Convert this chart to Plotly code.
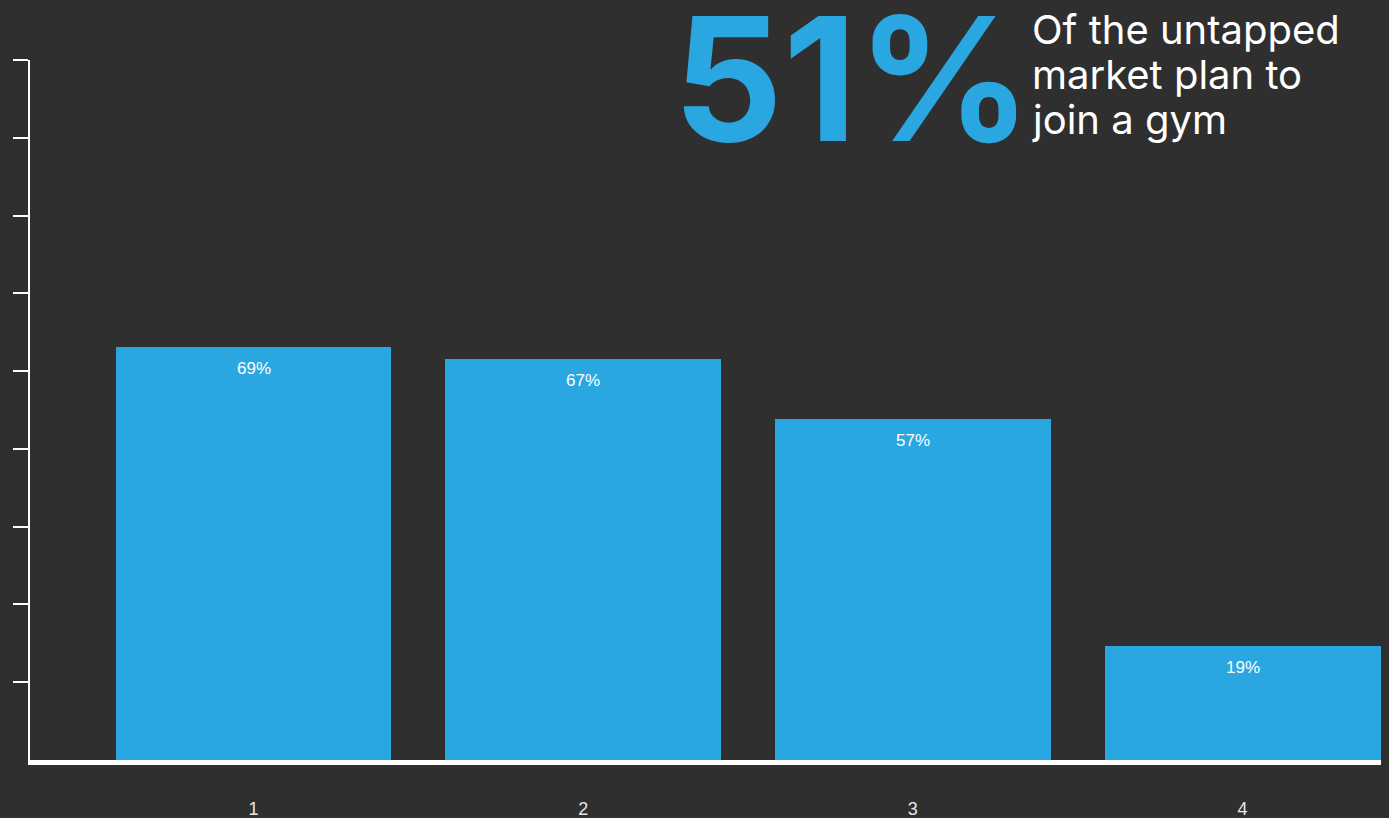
import plotly.graph_objects as go

# Survey results
categories = [1, 2, 3, 4]
values = [69, 67, 57, 19]
value_labels = ["69%", "67%", "57%", "19%"]
tick_labels = ["1", "2", "3", "4"]

headline_value = "51%"
headline_lines = ["Of the untapped", "market plan to", "join a gym"]

BG = "#2f2f2f"
BLUE = "#2aa7e0"

y_max = 117
y_step = 13

W, H = 1389, 818
M_L, M_R, M_T, M_B = 30, 8, 60, 58
PLOT_H = H - M_T - M_B


def paper_y(py):
    """Convert a pixel row (from the top of the page) into paper y."""
    return (H - M_B - py) / PLOT_H


def paper_x(px):
    return (px - M_L) / (W - M_L - M_R)


fig = go.Figure()
fig.add_trace(go.Bar(
    x=categories,
    y=values,
    width=0.837,
    marker=dict(color=BLUE, line=dict(width=0)),
    hoverinfo="skip",
))

# value labels just inside the top of each bar
for c, v, lab in zip(categories, values, value_labels):
    fig.add_annotation(
        x=c, y=v, text=lab, showarrow=False,
        yanchor="top", yshift=-10,
        font=dict(family="Liberation Sans, Arial, sans-serif", size=17, color="#ffffff"),
    )

# headline figure
fig.add_annotation(
    xref="paper", yref="paper", x=paper_x(671), y=paper_y(78),
    xanchor="left", yanchor="middle", text="<b>" + headline_value + "</b>",
    showarrow=False,
    font=dict(family="Inter, sans-serif", size=172, color=BLUE),
)
# caption, one line per annotation for tight line spacing
for i, line in enumerate(headline_lines):
    fig.add_annotation(
        xref="paper", yref="paper", x=paper_x(1030), y=paper_y(29 + 45 * i),
        xanchor="left", yanchor="middle", text=line, align="left",
        showarrow=False,
        font=dict(family="Inter, sans-serif", size=40, color="#ffffff"),
    )

fig.update_layout(
    width=W, height=H,
    margin=dict(l=M_L, r=M_R, t=M_T, b=M_B, autoexpand=False),
    paper_bgcolor=BG, plot_bgcolor=BG,
    showlegend=False,
    bargap=0,
    xaxis=dict(
        range=[0.322, 4.42],
        tickvals=categories, ticktext=tick_labels,
        showgrid=False, zeroline=False,
        showline=True, linecolor="#ffffff", linewidth=5,
        ticks="", ticklabelstandoff=28, automargin=False,
        tickfont=dict(family="Liberation Sans, Arial, sans-serif", size=18, color="#e6e6e6"),
        fixedrange=True,
    ),
    yaxis=dict(
        range=[0, y_max],
        tickvals=list(range(y_step, y_max + 1, y_step)),
        showticklabels=False, automargin=False,
        showgrid=False, zeroline=False,
        showline=True, linecolor="#ffffff", linewidth=2,
        ticks="outside", ticklen=15, tickwidth=2, tickcolor="#ffffff",
        fixedrange=True,
    ),
)

fig.write_html("out.html")
